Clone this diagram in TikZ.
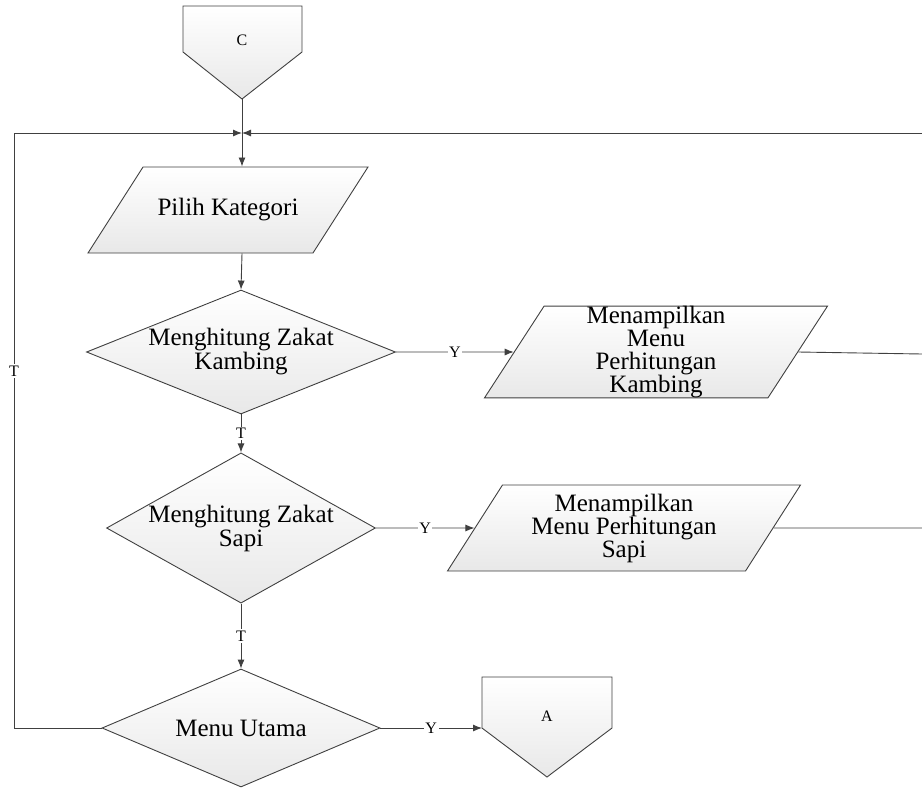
\documentclass[tikz,border=0pt]{standalone}
\usepackage{fontspec}
\setmainfont{Liberation Serif}
\usetikzlibrary{positioning,arrows.meta,shapes.geometric}

\begin{document}
\begin{tikzpicture}[x=1pt,y=1pt,
    >={Latex[length=9pt,width=7pt]},
    shadebox/.style={draw=black!75,line width=0.9pt,top color=white,
      bottom color=black!9},
    io/.style={shadebox,trapezium,trapezium left angle=57,
      trapezium right angle=123,trapezium stretches body,inner xsep=0pt,
      align=center,font=\fontsize{25}{23}\selectfont},
    test/.style={shadebox,diamond,inner sep=0pt,align=center,
      font=\fontsize{25}{24}\selectfont},
    conn/.style={font=\fontsize{16}{16}\selectfont},
    lbl/.style={fill=white,inner sep=1.5pt,font=\fontsize{16}{16}\selectfont},
    dep/.style={draw=black!75,line width=0.9pt,->},
    link/.style={draw=black!75,line width=0.9pt}
  ]
  \useasboundingbox (0,0) rectangle (922,-788);
  % off-page connector at the top
  \path[shadebox] (183,-6) -- (302,-6) -- (302,-52) -- (242,-99)
    -- (183,-52) -- cycle;
  \node[conn] (C) at (242,-40) {C};
  \coordinate (Ctip) at (242,-99);
  \coordinate (J) at (242,-133);
  % input and the three tests
  \node[io,inner ysep=31pt,minimum width=280pt,minimum height=86pt]
    (pilih) at (228,-210) {Pilih Kategori};
  \node[test,aspect=2.49,minimum width=309pt,minimum height=124pt]
    (kambingQ) at (241,-352) {Menghitung Zakat\\Kambing};
  \node[test,aspect=1.79,minimum width=259pt,minimum height=145pt]
    (sapiQ) at (241,-528) {Menghitung Zakat\\Sapi};
  \node[test,aspect=2.3,minimum width=278pt,minimum height=118pt]
    (utama) at (241,-728) {Menu Utama};
  % outputs
  \node[io,inner ysep=0pt,minimum width=343pt,minimum height=91pt]
    (kambingOut) at (656,-352) {Menampilkan\\Menu\\Perhitungan\\Kambing};
  \node[io,inner ysep=8pt,minimum width=353pt,minimum height=86pt]
    (sapiOut) at (624,-528) {Menampilkan\\Menu Perhitungan\\Sapi};
  % off-page connector A
  \path[shadebox] (482,-677) -- (612,-677) -- (612,-728) -- (547,-777)
    -- (482,-728) -- cycle;
  \node[conn] (A) at (547,-716) {A};
  \coordinate (Aleft) at (482,-728);
  % loose ends on the right
  \coordinate (Rtop) at (922,-133);
  \coordinate (Rkambing) at (922,-354);
  \coordinate (Rsapi) at (922,-528);
  % connectors
  \draw[dep] (Ctip) -- (J |- pilih.north);
  \draw[dep] (Rtop) -- (J);
  \draw[dep] (utama.west) -- (14,-728) -- node[lbl,pos=.6]{T} (14,-133)
    -- (J);
  \draw[dep] (J |- pilih.south) -- (kambingQ.north);
  \draw[dep] (kambingQ.east) -- node[lbl]{Y} (kambingOut.west);
  \draw[dep] (kambingQ.south) -- node[lbl]{T} (sapiQ.north);
  \draw[dep] (sapiQ.east) -- node[lbl]{Y} (sapiOut.west);
  \draw[dep] (sapiQ.south) -- node[lbl]{T} (utama.north);
  \draw[dep] (utama.east) -- node[lbl]{Y} (Aleft);
  \draw[link] (kambingOut.east) -- (Rkambing);
  \draw[link] (sapiOut.east) -- (Rsapi);
\end{tikzpicture}
\end{document}
